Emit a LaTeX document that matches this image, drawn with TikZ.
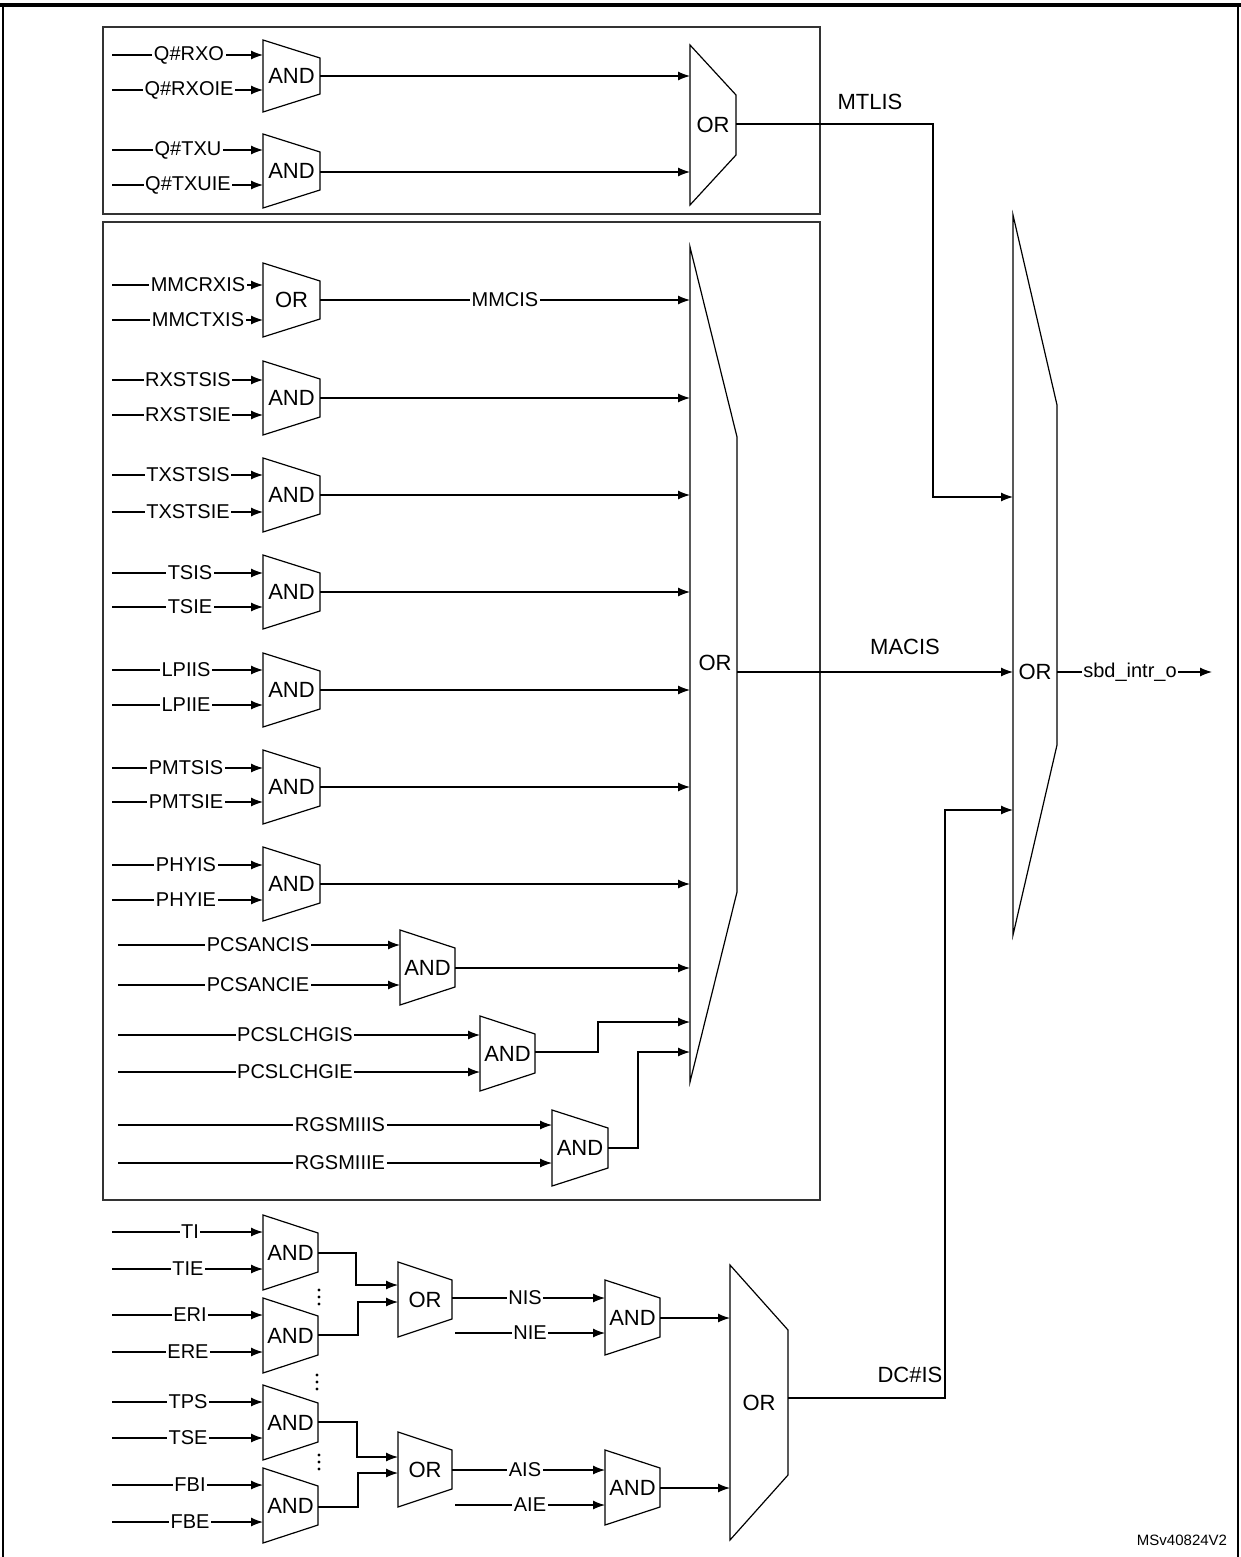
\documentclass[tikz,border=0pt]{standalone}
\usepackage{fontspec}
\setmainfont{Liberation Sans}
\usetikzlibrary{arrows.meta}
\begin{document}
\begin{tikzpicture}[x=0.5pt,y=-0.5pt,line width=0.6pt,
  >={Latex[length=6pt,width=4.5pt]},
  lbl/.style={fill=white,inner sep=0.8pt,font=\fontsize{10}{12}\selectfont},
  gtxt/.style={inner sep=0pt,font=\fontsize{11}{13}\selectfont},
  box/.style={draw=black!80,line width=0.8pt},
  dot/.style={circle,fill,inner sep=0pt,minimum size=1.6pt}]
\useasboundingbox (0,0) rectangle (1241,1557);
\newcommand\lgate[7]{% name,x,ytop,ybot,w,inset,label
  \draw (#2,#3) -- (#2+#5,#3+#6) -- (#2+#5,#4-#6) -- (#2,#4) -- cycle;
  \node[gtxt] (#1) at ({#2+#5/2},{(#3+#4)/2}) {#7};}
\newcommand\inp[6]{% name,y,x0,x1,labelx,text
  \coordinate (#1s) at (#3,#2); \coordinate (#1e) at (#4,#2);
  \draw[->] (#1s) -- (#1e);
  \node[lbl] (#1) at (#5,#2) {#6};}
\newcommand\vdts[2]{\node[dot] at (#1,#2-7) {};\node[dot] at (#1,#2) {};\node[dot] at (#1,#2+7) {};}
% frame
\draw[line width=0.8pt] (3,5) -- (3,1557) (1238,5) -- (1238,1557);
\draw[line width=2pt] (0,5) -- (1241,5);
\draw[box] (103,27) rectangle (820,214);
\draw[box] (103,222) rectangle (820,1200);
% top box
\lgate{a1}{263}{40}{112}{57}{18}{AND}
\lgate{a2}{263}{134}{208}{57}{18}{AND}
\inp{q1}{55}{112}{263}{189}{Q\#RXO}
\inp{q2}{90}{112}{263}{189}{Q\#RXOIE}
\inp{q3}{150}{112}{263}{188}{Q\#TXU}
\inp{q4}{185}{112}{263}{188}{Q\#TXUIE}
\lgate{o1}{690}{45}{205}{46}{50}{OR}
\coordinate (a1o) at (320,76); \coordinate (a1i) at (690,76);
\coordinate (a2o) at (320,172); \coordinate (a2i) at (690,172);
\draw[->] (a1o) -- (a1i); \draw[->] (a2o) -- (a2i);
% box 2
\lgate{g1}{263}{263}{337}{57}{18}{OR}
\inp{m1}{285}{112}{263}{198}{MMCRXIS}
\inp{m2}{320}{112}{263}{198}{MMCTXIS}
\lgate{g2}{263}{361}{435}{57}{18}{AND}
\inp{r1}{380}{112}{263}{188}{RXSTSIS}
\inp{r2}{415}{112}{263}{188}{RXSTSIE}
\lgate{g3}{263}{458}{532}{57}{18}{AND}
\inp{t1}{475}{112}{263}{188}{TXSTSIS}
\inp{t2}{512}{112}{263}{188}{TXSTSIE}
\lgate{g4}{263}{555}{629}{57}{18}{AND}
\inp{s1}{573}{112}{263}{190}{TSIS}
\inp{s2}{607}{112}{263}{190}{TSIE}
\lgate{g5}{263}{653}{727}{57}{18}{AND}
\inp{l1}{670}{112}{263}{186}{LPIIS}
\inp{l2}{705}{112}{263}{186}{LPIIE}
\lgate{g6}{263}{750}{824}{57}{18}{AND}
\inp{p1}{768}{112}{263}{186}{PMTSIS}
\inp{p2}{802}{112}{263}{186}{PMTSIE}
\lgate{g7}{263}{847}{921}{57}{18}{AND}
\inp{h1}{865}{112}{263}{186}{PHYIS}
\inp{h2}{900}{112}{263}{186}{PHYIE}
\lgate{g8}{400}{930}{1005}{55}{18}{AND}
\inp{c1}{945}{118}{400}{258}{PCSANCIS}
\inp{c2}{985}{118}{400}{258}{PCSANCIE}
\lgate{g9}{480}{1016}{1091}{55}{18}{AND}
\inp{d1}{1035}{118}{480}{295}{PCSLCHGIS}
\inp{d2}{1072}{118}{480}{295}{PCSLCHGIE}
\lgate{g10}{552}{1110}{1186}{56}{18}{AND}
\inp{e1}{1125}{118}{552}{340}{RGSMIIIS}
\inp{e2}{1163}{118}{552}{340}{RGSMIIIE}
\lgate{bo}{690}{247}{1082}{47}{190}{}
\node[gtxt] (bol) at (715,663) {OR};
\foreach \n/\y in {1/300,2/398,3/495,4/592,5/690,6/787,7/884}{
  \coordinate (go\n) at (320,\y); \coordinate (gi\n) at (690,\y);
  \draw[->] (go\n) -- (gi\n);}
\node[lbl] (mmcis) at (505,300) {MMCIS};
\coordinate (go8) at (455,968); \coordinate (gi8) at (690,968);
\draw[->] (go8) -- (gi8);
\coordinate (go9) at (535,1052); \coordinate (gi9) at (690,1022);
\draw[->] (go9) -- (598,1052) -- (598,1022) -- (gi9);
\coordinate (go10) at (608,1148); \coordinate (gi10) at (690,1052);
\draw[->] (go10) -- (638,1148) -- (638,1052) -- (gi10);
% right OR
\lgate{ro}{1013}{215}{935}{44}{190}{}
\node[gtxt] (rol) at (1035,672) {OR};
\coordinate (o1o) at (736,124); \coordinate (ri1) at (1013,497);
\draw[->] (o1o) -- (933,124) -- (933,497) -- (ri1);
\node[gtxt] (mtlis) at (870,102) {MTLIS};
\coordinate (boo) at (737,672); \coordinate (ri2) at (1013,672);
\draw[->] (boo) -- (ri2);
\node[gtxt] (macis) at (905,647) {MACIS};
\coordinate (roo) at (1057,672); \coordinate (sbe) at (1212,672);
\draw[->] (roo) -- (sbe);
\node[lbl] (sbd) at (1130,672) {sbd\_intr\_o};
% bottom
\lgate{b1}{263}{1215}{1290}{55}{18}{AND}
\inp{i1}{1232}{112}{263}{190}{TI}
\inp{i2}{1269}{112}{263}{188}{TIE}
\lgate{b2}{263}{1298}{1373}{55}{18}{AND}
\inp{i3}{1315}{112}{263}{190}{ERI}
\inp{i4}{1352}{112}{263}{188}{ERE}
\lgate{b3}{263}{1385}{1460}{55}{18}{AND}
\inp{i5}{1402}{112}{263}{188}{TPS}
\inp{i6}{1438}{112}{263}{188}{TSE}
\lgate{b4}{263}{1468}{1543}{55}{18}{AND}
\inp{i7}{1485}{112}{263}{190}{FBI}
\inp{i8}{1522}{112}{263}{190}{FBE}
\vdts{319}{1297}
\vdts{317}{1382}
\vdts{319}{1462}
\lgate{or1}{398}{1262}{1337}{54}{18}{OR}
\lgate{or2}{398}{1432}{1507}{54}{18}{OR}
\coordinate (b1o) at (318,1253); \coordinate (or1a) at (398,1285);
\draw[->] (b1o) -- (356,1253) -- (356,1285) -- (or1a);
\coordinate (b2o) at (318,1335); \coordinate (or1b) at (398,1302);
\draw[->] (b2o) -- (358,1335) -- (358,1302) -- (or1b);
\coordinate (b3o) at (318,1422); \coordinate (or2a) at (398,1457);
\draw[->] (b3o) -- (357,1422) -- (357,1457) -- (or2a);
\coordinate (b4o) at (318,1507); \coordinate (or2b) at (398,1473);
\draw[->] (b4o) -- (358,1507) -- (358,1473) -- (or2b);
\lgate{n1}{605}{1280}{1355}{55}{18}{AND}
\lgate{n2}{605}{1450}{1525}{55}{18}{AND}
\inp{nis}{1298}{452}{605}{525}{NIS}
\inp{nie}{1333}{455}{605}{530}{NIE}
\inp{ais}{1470}{452}{605}{525}{AIS}
\inp{aie}{1505}{455}{605}{530}{AIE}
\lgate{bor}{730}{1265}{1540}{58}{65}{OR}
\coordinate (n1o) at (660,1318); \coordinate (bi1) at (730,1318);
\draw[->] (n1o) -- (bi1);
\coordinate (n2o) at (660,1488); \coordinate (bi2) at (730,1488);
\draw[->] (n2o) -- (bi2);
\coordinate (boro) at (788,1398); \coordinate (ri3) at (1013,810);
\draw[->] (boro) -- (945,1398) -- (945,810) -- (ri3);
\node[gtxt] (dcis) at (910,1375) {DC\#IS};
\node[inner sep=0pt,font=\fontsize{7.5}{9}\selectfont] (ms) at (1182,1540) {MSv40824V2};
\end{tikzpicture}
\end{document}
